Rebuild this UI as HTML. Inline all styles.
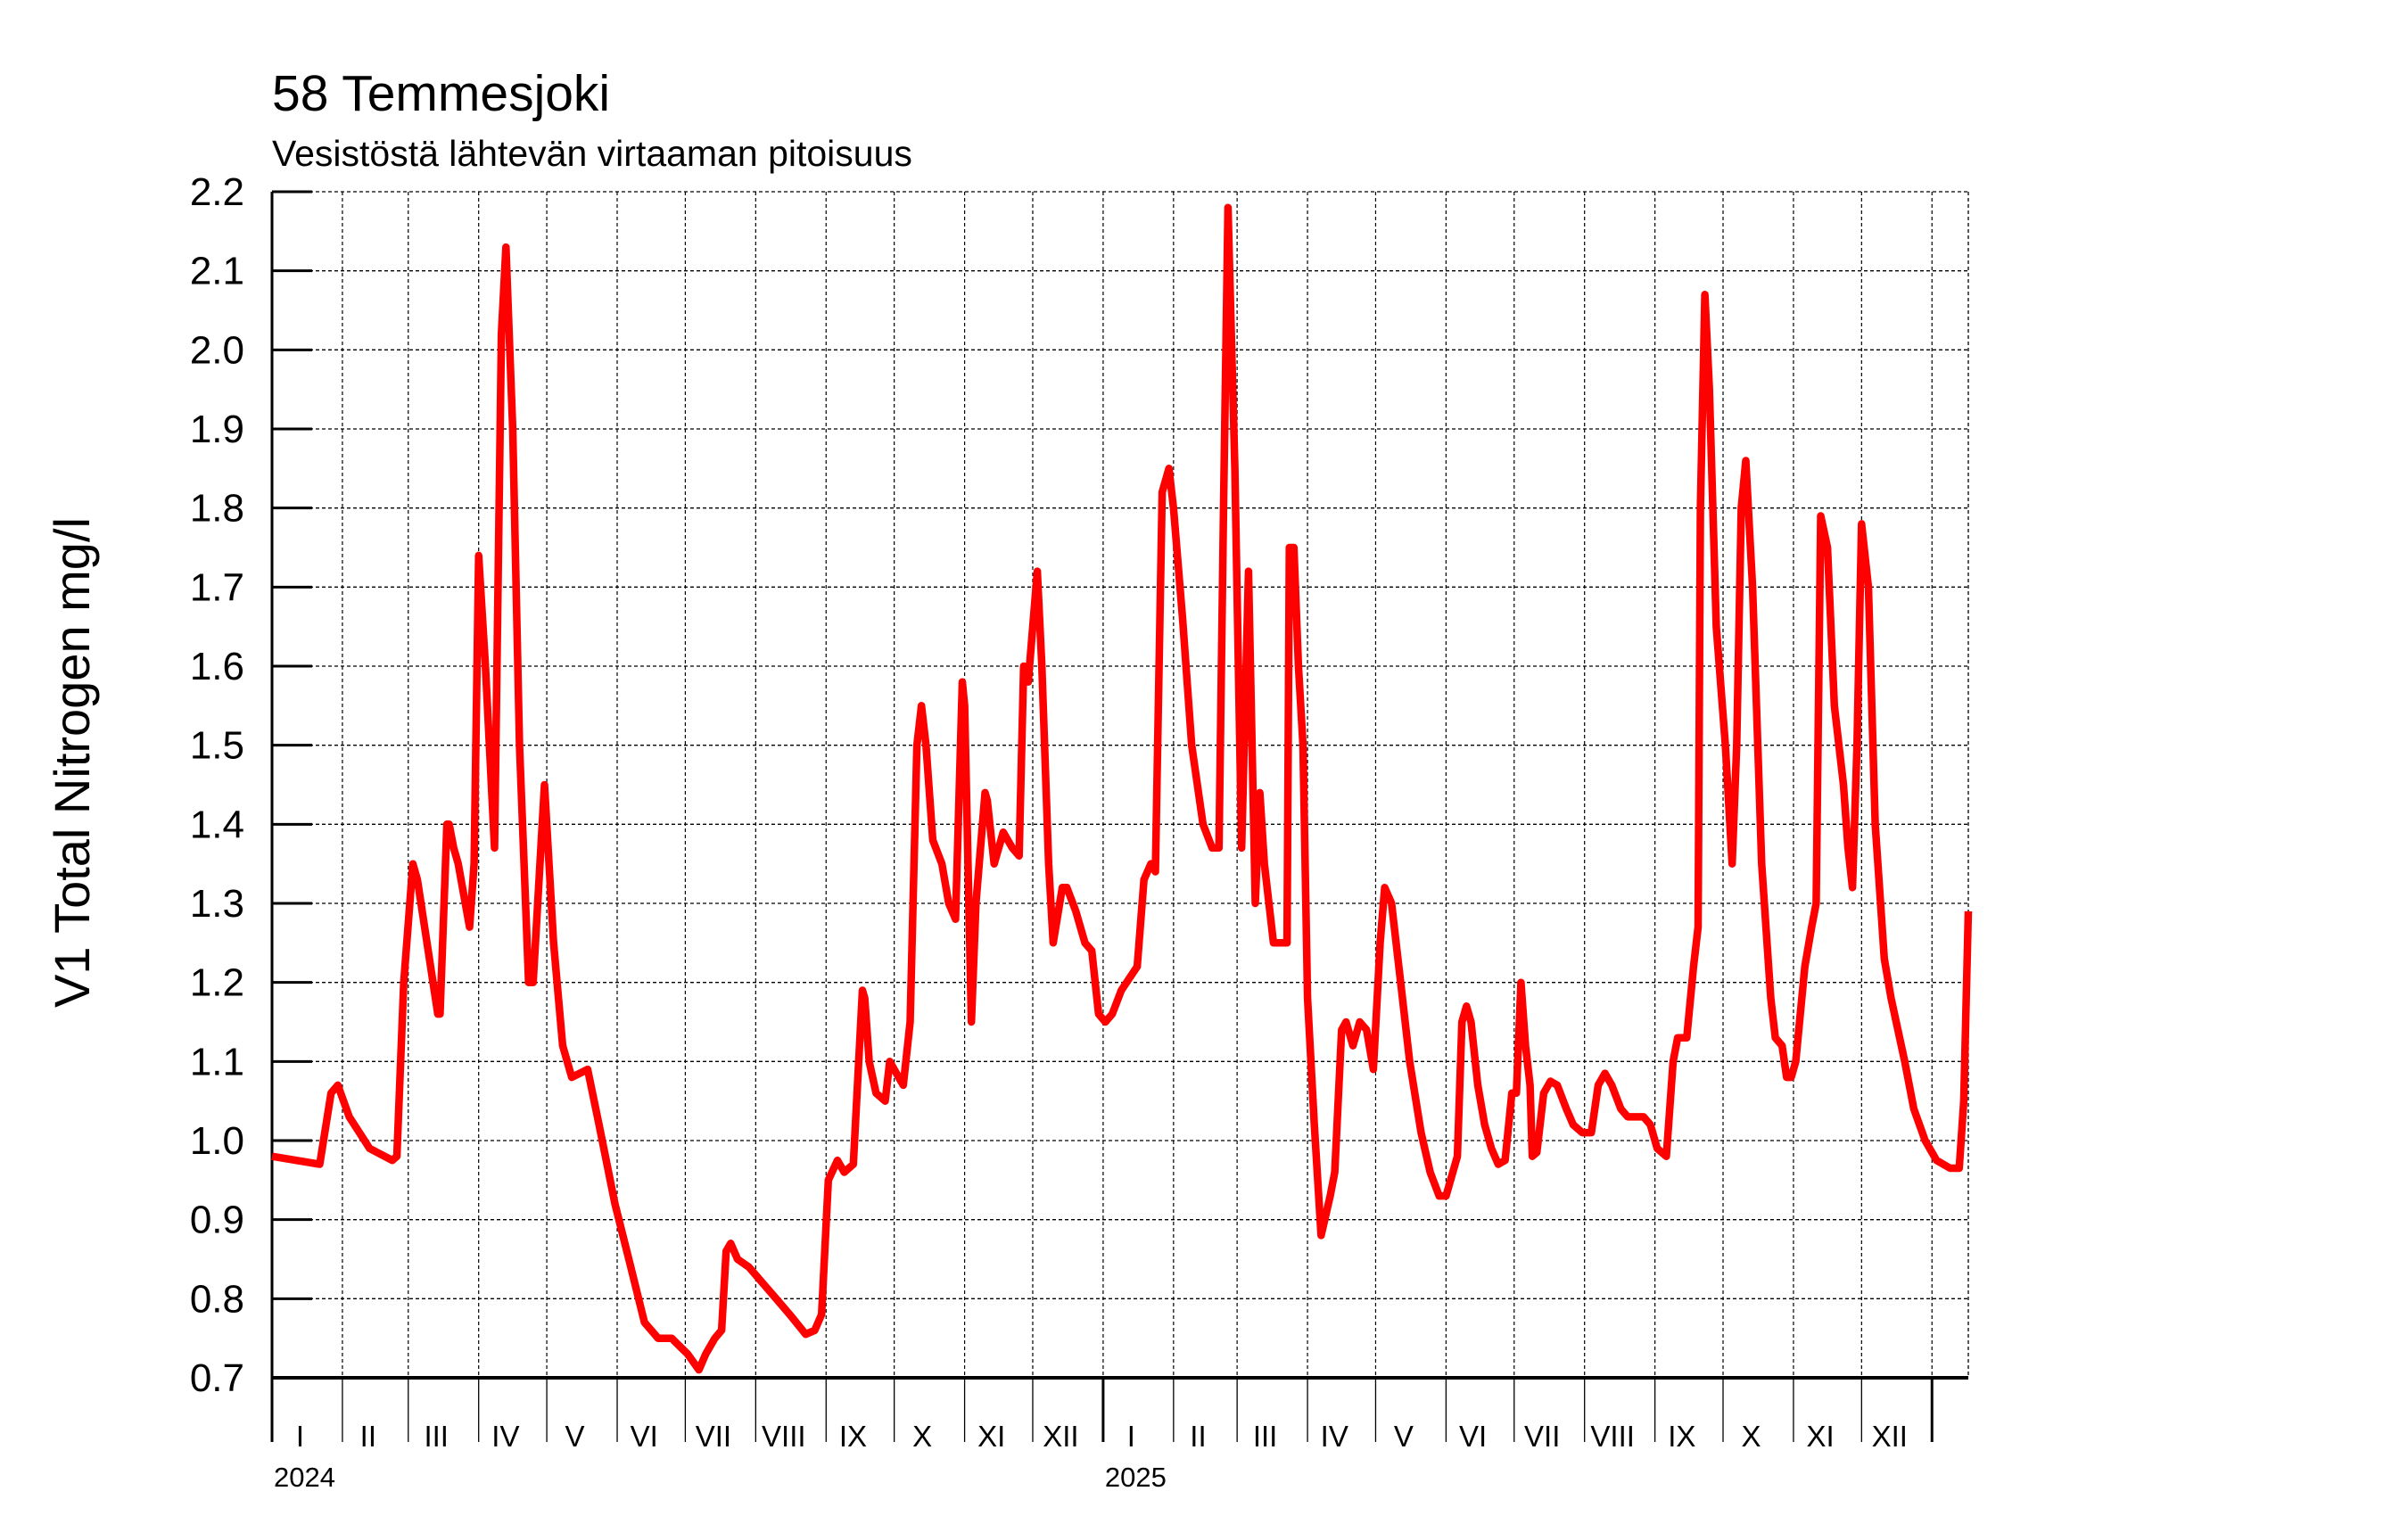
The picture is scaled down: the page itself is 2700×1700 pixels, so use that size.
<!DOCTYPE html>
<html><head><meta charset="utf-8"><style>
html,body{margin:0;padding:0;background:#fff;}
svg{display:block;font-family:"Liberation Sans",sans-serif;}
</style></head><body>
<svg id="chart" width="2700" height="1700" viewBox="0 0 2700 1700" xmlns="http://www.w3.org/2000/svg">
<text x="305" y="124" font-size="57">58 Temmesjoki</text>
<text x="305" y="186" font-size="41">Vesistöstä lähtevän virtaaman pitoisuus</text>
<text transform="translate(100,855) rotate(-90)" text-anchor="middle" font-size="56">V1 Total Nitrogen mg/l</text>
<g id="grid"></g><g id="axes"></g><g id="series"></g>
</svg>
<script>
const yTicks=[0.7,0.8,0.9,1.0,1.1,1.2,1.3,1.4,1.5,1.6,1.7,1.8,1.9,2.0,2.1,2.2];
const monthLabels=["I","II","III","IV","V","VI","VII","VIII","IX","X","XI","XII"];
const monthStarts=[0,31,60,91,121,152,182,213,244,274,305,335,366,397,425,456,486,517,547,578,609,639,670,700,731];
const yearLabels=["2024","2025"];
const days=[0,21,26,29,34,43,53,55,58,62,64,73,74,77,78,80,82,87,89,91,94,98,101,103,106,109,113,115,117,120,124,128,132,139,144,151,158,164,170,176,183,188,191,195,198,200,202,205,210,216,222,228,235,239,242,245,249,252,256,260,261,263,266,270,272,276,278,281,284,286,288,291,295,298,301,304,305,308,310,314,315,318,322,326,329,331,333,337,339,342,344,348,350,354,358,361,364,367,370,374,381,384,387,389,392,395,397,401,405,410,414,417,419,421,424,427,430,433,435,437,441,447,448,450,452,454,456,459,462,466,468,471,473,476,479,482,485,488,490,493,497,501,506,510,514,517,522,524,526,528,531,534,537,540,543,546,548,550,552,554,555,557,560,563,566,570,573,577,581,584,587,590,594,597,604,607,610,614,617,619,623,624,626,628,629,631,633,636,640,643,645,647,649,652,656,660,662,665,667,669,671,675,678,680,682,685,688,692,694,696,698,700,703,706,710,713,719,723,728,733,739,743,745,747];
const values=[0.98,0.97,1.06,1.07,1.03,0.99,0.975,0.98,1.2,1.35,1.33,1.16,1.16,1.4,1.4,1.37,1.35,1.27,1.35,1.74,1.6,1.37,2.02,2.13,1.9,1.5,1.2,1.2,1.3,1.45,1.25,1.12,1.08,1.09,1.02,0.92,0.84,0.77,0.75,0.75,0.73,0.71,0.73,0.75,0.76,0.86,0.87,0.85,0.84,0.82,0.8,0.78,0.755,0.76,0.78,0.95,0.975,0.96,0.97,1.19,1.18,1.1,1.06,1.05,1.1,1.08,1.07,1.15,1.5,1.55,1.5,1.38,1.35,1.3,1.28,1.58,1.55,1.15,1.3,1.44,1.43,1.35,1.39,1.37,1.36,1.6,1.58,1.72,1.6,1.35,1.25,1.32,1.32,1.29,1.25,1.24,1.16,1.15,1.16,1.19,1.22,1.33,1.35,1.34,1.82,1.85,1.8,1.66,1.5,1.4,1.37,1.37,1.8,2.18,1.85,1.37,1.72,1.3,1.44,1.35,1.25,1.25,1.75,1.75,1.6,1.5,1.18,1.02,0.88,0.93,0.96,1.14,1.15,1.12,1.15,1.14,1.09,1.25,1.32,1.3,1.2,1.1,1.01,0.96,0.93,0.93,0.98,1.15,1.17,1.15,1.07,1.02,0.99,0.97,0.975,1.06,1.06,1.2,1.12,1.07,0.98,0.985,1.06,1.075,1.07,1.04,1.02,1.01,1.01,1.07,1.085,1.07,1.04,1.03,1.03,1.02,0.99,0.98,1.1,1.13,1.13,1.16,1.22,1.27,1.8,2.07,1.95,1.65,1.5,1.35,1.5,1.8,1.86,1.7,1.35,1.18,1.13,1.12,1.08,1.08,1.1,1.22,1.27,1.3,1.79,1.75,1.55,1.45,1.37,1.32,1.5,1.78,1.7,1.4,1.23,1.18,1.1,1.04,1.0,0.975,0.965,0.965,1.05,1.29];

const NS="http://www.w3.org/2000/svg";
const L=305,R=2207,T=215,B=1545,D0=0,D1=747,V0=0.7,V1=2.2;
function xs(d){return L+(d-D0)/(D1-D0)*(R-L);}
function ys(v){return B-(v-V0)/(V1-V0)*(B-T);}
function mk(tag,attrs,parent){const e=document.createElementNS(NS,tag);for(const k in attrs)e.setAttribute(k,attrs[k]);parent.appendChild(e);return e;}
const grid=document.getElementById('grid'),axes=document.getElementById('axes'),series=document.getElementById('series');

yTicks.forEach((v,i)=>{
  const g=mk('line',{x1:L,x2:R,y1:ys(v),y2:ys(v),stroke:'#000','stroke-width':1.3,'stroke-dasharray':'4,3'},grid);
  
  
  const t=mk('line',{x1:L,x2:L+45,y1:ys(v),y2:ys(v),stroke:'#000','stroke-width':3},axes);
  
  
  const lb=mk('text',{x:274,y:ys(v)+15,'text-anchor':'end','font-size':44},axes);
  lb.textContent=v.toFixed(1);
  
  
});
monthStarts.forEach((d,i)=>{
  if(i>0){
    const g=mk('line',{x1:xs(d),x2:xs(d),y1:T,y2:B,stroke:'#000','stroke-width':1.2,'stroke-dasharray':'4,3'},grid);
    
    
  }
  const yr=(d===0||d===366||d===731);
  const s=mk('line',{x1:xs(d),x2:xs(d),y1:B,y2:1617,stroke:'#000','stroke-width':yr?3:1.3},axes);
  
  
  if(i<monthStarts.length-1){
    const lb=mk('text',{x:(xs(d)+xs(monthStarts[i+1]))/2-8,y:1622,'text-anchor':'middle','font-size':33},axes);
    lb.textContent=monthLabels[i%12];
    
    
  }
});
const rb=mk('line',{x1:R,x2:R,y1:T,y2:B,stroke:'#000','stroke-width':1.3,'stroke-dasharray':'4,3'},grid);


yearLabels.forEach((y,i)=>{
  const t=mk('text',{x:xs(monthStarts[i*12])+2,y:1667,'font-size':31},axes);
  t.textContent=y;
  
  
});
const ya=mk('line',{x1:L,x2:L,y1:T,y2:B,stroke:'#000','stroke-width':3},axes);


const xa=mk('line',{x1:L,x2:R,y1:B,y2:B,stroke:'#000','stroke-width':4},axes);


const pts=days.map((d,i)=>xs(d).toFixed(1)+','+ys(values[i]).toFixed(1)).join(' ');
const pl=mk('polyline',{points:pts,fill:'none',stroke:'#ff0000','stroke-width':8.5,'stroke-linejoin':'round'},series);


</script>
</body></html>
